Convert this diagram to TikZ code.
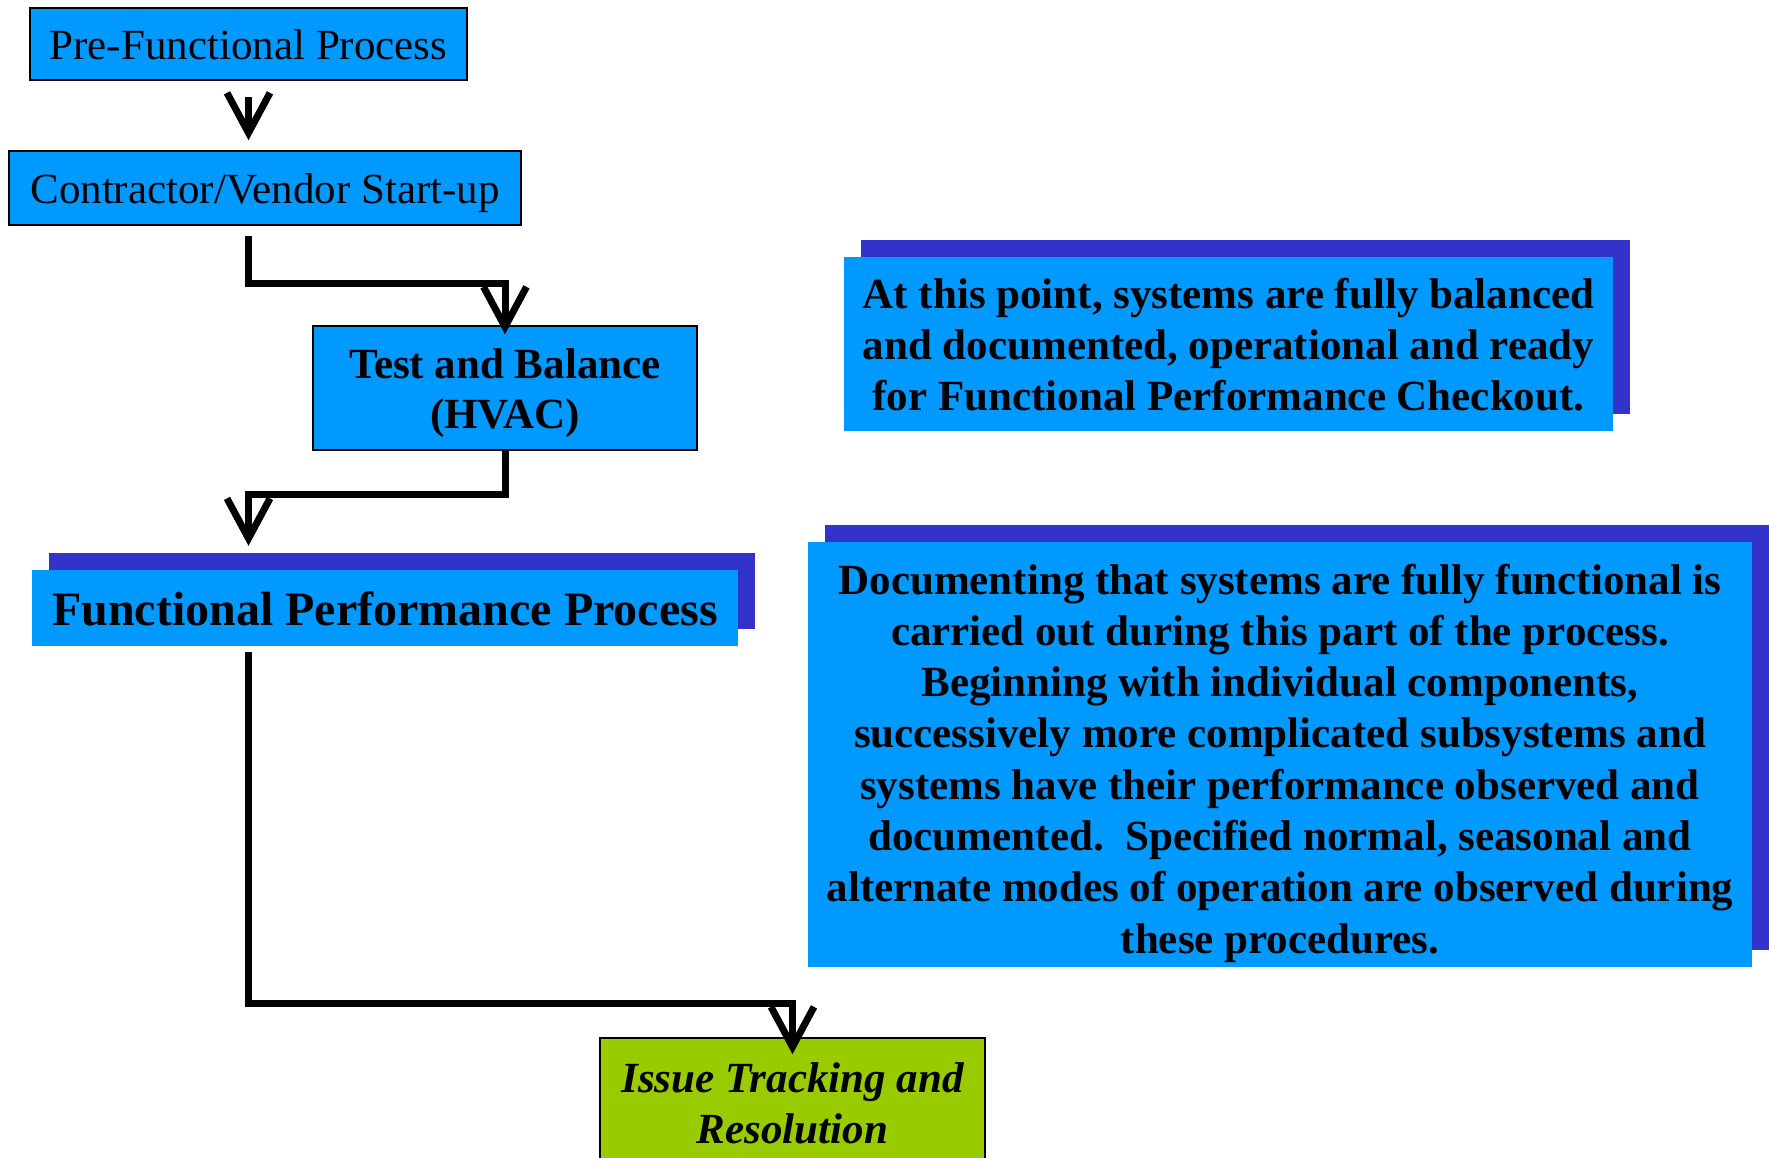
\documentclass[tikz,border=0pt]{standalone}
\usepackage{fontspec}
\setmainfont{Liberation Serif}
\usetikzlibrary{arrows.meta,calc,shadows}
\definecolor{boxblue}{HTML}{0099FF}
\definecolor{shadowblue}{HTML}{3333CC}
\definecolor{issuegreen}{HTML}{99CC00}
\newcommand\boxtext[2]{\raisebox{-#1}[\height][\depth]{\begin{tabular}{@{}c@{}}#2\end{tabular}}}
\begin{document}
\begin{tikzpicture}[x=1pt,y=-1pt,
  box/.style={fill=boxblue, draw=black, line width=1.5pt, inner sep=0pt,
    font=\fontsize{43}{51}\selectfont},
  shbox/.style={fill=boxblue, inner sep=0pt,
    font=\fontsize{43}{51.3}\selectfont\bfseries,
    general shadow={fill=shadowblue, shadow xshift=17pt, shadow yshift=17pt}},
  conn/.style={line width=7pt, line join=miter, -{Straight Barb[length=40pt,width=43pt]}}
]
\useasboundingbox (0,0) rectangle (1769,1157);
\clip (0,0) rectangle (1769,1157);

\node[box, minimum width=437pt, minimum height=72pt] (pre) at (248.5,44) {\boxtext{5pt}{Pre-Functional Process}};
\node[box, minimum width=512pt, minimum height=74pt] (con) at (265,188) {\boxtext{5pt}{Contractor/Vendor Start-up}};
\node[box, font=\fontsize{43}{50.5}\selectfont\bfseries, minimum width=384pt, minimum height=124pt] (tab) at (505,388) {\boxtext{5.5pt}{Test and Balance\\(HVAC)}};
\node[shbox, font=\fontsize{48}{57}\selectfont\bfseries, minimum width=706pt, minimum height=76pt] (fpp) at (385,608) {\boxtext{6pt}{Functional Performance Process}};
\node[box, fill=issuegreen, font=\fontsize{43}{51}\selectfont\bfseries\itshape, minimum width=385pt, minimum height=130pt] (issue) at (792.5,1103) {\boxtext{4.5pt}{Issue Tracking and\\Resolution}};

\node[shbox, font=\fontsize{43}{51}\selectfont\bfseries, minimum width=769pt, minimum height=174pt] (note1) at (1228.5,344)
  {\boxtext{5.5pt}{At this point, systems are fully balanced\\and documented, operational and ready\\for Functional Performance Checkout.}};
\node[shbox, minimum width=944pt, minimum height=425pt] (note2) at (1280,754)
  {\boxtext{9.3pt}{Documenting that systems are fully functional is\\carried out during this part of the process.\\Beginning with individual components,\\successively more complicated subsystems and\\systems have their performance observed and\\documented.\ \ Specified normal, seasonal and\\alternate modes of operation are observed during\\these procedures.}};

\draw[conn] ($(pre.south)+(0,16)$) -- ($(pre.south |- con.north)+(0,-10)$);
\draw[conn] ($(con.south -| pre.south)+(0,10)$) -- ++(0,48) -| ($(tab.north)+(0,9)$);
\draw[conn] (tab.south) -- ++(0,44) -| ($(fpp.north -| pre.south)+(0,-24)$);
\draw[conn] ($(fpp.south -| pre.south)+(0,6)$) -- ++(0,351) -| ($(issue.north)+(0,17)$);
\end{tikzpicture}
\end{document}
